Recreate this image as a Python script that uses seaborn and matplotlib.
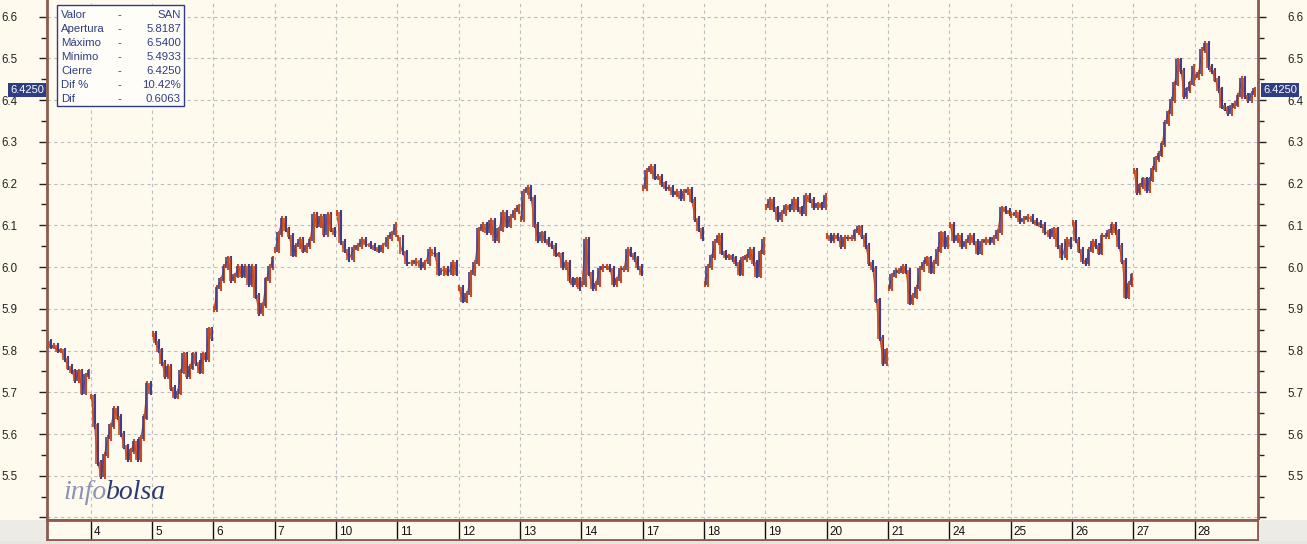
import numpy as np
import pandas as pd
import matplotlib
matplotlib.use("Agg")
import matplotlib.pyplot as plt
import seaborn as sns
from matplotlib.patches import Rectangle

# Session labels (day of month) and the price path read from each session
day_labels = ['3', '4', '5', '6', '7', '10', '11', '12', '13', '14',
              '17', '18', '19', '20', '21', '24', '25', '26', '27', '28']

p03 = [5.82, 5.81, 5.81, 5.80, 5.80, 5.78, 5.76, 5.75, 5.73, 5.75, 5.70, 5.74, 5.75]
p04 = [5.69, 5.62, 5.53, 5.50, 5.55, 5.59, 5.62, 5.66, 5.64, 5.60, 5.57, 5.54, 5.56,
       5.58, 5.54, 5.59, 5.64, 5.72, 5.70]
p05 = [5.84, 5.82, 5.80, 5.77, 5.74, 5.76, 5.71, 5.69, 5.70, 5.75, 5.79, 5.74, 5.76,
       5.79, 5.77, 5.75, 5.79, 5.78, 5.85, 5.83]
p06 = [5.90, 5.95, 5.97, 6.00, 6.02, 5.97, 5.98, 6.00, 5.98, 6.00, 5.96, 6.00, 5.93,
       5.89, 5.91, 5.97, 6.00, 6.02]
p07 = [6.04, 6.08, 6.115, 6.09, 6.075, 6.03, 6.05, 6.065, 6.04, 6.05, 6.065, 6.125,
       6.10, 6.12, 6.08, 6.125, 6.09, 6.08]
p10 = [6.13, 6.06, 6.04, 6.02, 6.045, 6.05, 6.065, 6.055, 6.05, 6.045, 6.04, 6.05,
       6.07, 6.08, 6.10]
p11 = [6.07, 6.035, 6.01, 6.01, 6.015, 6.00, 6.01, 6.04, 6.03, 5.985, 5.995, 5.985,
       6.01, 5.985]
p12 = [5.95, 5.92, 5.935, 5.985, 6.01, 6.09, 6.10, 6.085, 6.11, 6.065, 6.09, 6.13,
       6.10, 6.12, 6.135, 6.145]
p13 = [6.115, 6.18, 6.19, 6.165, 6.10, 6.065, 6.08, 6.065, 6.055, 6.05, 6.03, 6.03,
       6.00, 6.01, 5.97, 5.96, 5.97, 5.95]
p14 = [5.96, 6.065, 5.985, 5.95, 5.96, 5.995, 6.00, 6.00, 5.995, 5.96, 5.97, 5.995,
       5.995, 6.04, 6.03, 6.02, 6.00, 5.985]
p17 = [6.19, 6.23, 6.24, 6.215, 6.215, 6.20, 6.19, 6.19, 6.175, 6.18, 6.165, 6.18,
       6.185, 6.16, 6.115, 6.09, 6.07]
p18 = [5.96, 6.00, 6.025, 6.06, 6.075, 6.035, 6.025, 6.025, 6.02, 6.01, 5.985, 6.02,
       6.025, 6.04, 6.01, 5.98, 6.035, 6.065]
p19 = [6.145, 6.16, 6.14, 6.115, 6.13, 6.145, 6.14, 6.16, 6.14, 6.13, 6.17, 6.16,
       6.145, 6.15, 6.145, 6.17]
p20 = [6.075, 6.065, 6.075, 6.07, 6.05, 6.07, 6.07, 6.07, 6.085, 6.095, 6.075, 6.05,
       6.01, 5.995, 5.92, 5.83, 5.77, 5.80]
p21 = [5.95, 5.98, 5.99, 5.99, 6.00, 5.99, 5.915, 5.93, 5.95, 5.995, 6.01, 6.02,
       5.99, 6.01, 6.04, 6.08, 6.05, 6.07]
p24 = [6.10, 6.065, 6.075, 6.05, 6.06, 6.075, 6.06, 6.035, 6.06, 6.065, 6.06, 6.07,
       6.085, 6.14, 6.135, 6.13]
p25 = [6.125, 6.13, 6.11, 6.115, 6.12, 6.11, 6.105, 6.10, 6.085, 6.075, 6.09, 6.05,
       6.025, 6.065, 6.05]
p26 = [6.105, 6.065, 6.04, 6.015, 6.01, 6.04, 6.06, 6.05, 6.035, 6.075, 6.075, 6.085,
       6.10, 6.085, 6.05, 6.015, 5.93, 5.96, 5.98]
p27 = [6.23, 6.18, 6.195, 6.21, 6.185, 6.21, 6.235, 6.26, 6.27, 6.295, 6.345, 6.37,
       6.40, 6.44, 6.495, 6.47, 6.41, 6.425, 6.44, 6.48]
p28 = [6.455, 6.465, 6.52, 6.535, 6.48, 6.47, 6.45, 6.425, 6.385, 6.38, 6.37, 6.385,
       6.39, 6.41, 6.45, 6.41, 6.40, 6.415, 6.425]

paths = [p03, p04, p05, p06, p07, p10, p11, p12, p13, p14,
         p17, p18, p19, p20, p21, p24, p25, p26, p27, p28]

info_labels = ['Valor', 'Apertura', 'Máximo', 'Mínimo', 'Cierre', 'Dif %', 'Dif']
info_values = ['SAN', '5.8187', '6.5400', '5.4933', '6.4250', '10.42%', '0.6063']
last_price = 6.4250
y_ticks = [5.4, 5.5, 5.6, 5.7, 5.8, 5.9, 6.0, 6.1, 6.2, 6.3, 6.4, 6.5, 6.6]

# build a long table: one row per point
rows = []
for k, pts in enumerate(paths):
    start = 0.29 if k == 0 else k + 0.01
    xs = np.linspace(start, k + 0.98, len(pts))
    for x, v in zip(xs, pts):
        rows.append((k, x, v))
df = pd.DataFrame(rows, columns=['day', 'x', 'price'])

BG = '#fffaee'
BROWN = '#8c5a50'
NAVY = '#2f3d82'
BLUE = '#3d3f8e'
ORANGE = '#c94a1c'

sns.set_style("white")
plt.rcParams['font.family'] = ['Liberation Sans', 'DejaVu Sans']

W, H = 1307, 544
fig = plt.figure(figsize=(W / 100, H / 100), dpi=100, facecolor=BG)


def fx(x):
    return x / W


def fy(y):
    return 1 - y / H


ax = fig.add_axes([fx(47), fy(520), fx(1258) - fx(47), fy(0) - fy(520)])
ax.set_facecolor(BG)

# thin connecting line, then high/low bars between consecutive points
sns.lineplot(data=df, x='x', y='price', units='day', estimator=None,
             color=ORANGE, lw=0.8, ax=ax, legend=False, sort=False)
for k, g in df.groupby('day'):
    xs = g['x'].to_numpy()
    ps = g['price'].to_numpy()
    for i in range(len(ps)):
        prev = ps[i - 1] if i > 0 else ps[i]
        lo = min(prev, ps[i]) - 0.007
        hi = max(prev, ps[i]) + 0.007
        c = ORANGE if ps[i] >= prev else BLUE
        ax.vlines(xs[i], lo, hi, color=c, lw=1.5, zorder=3)
        if i > 0:
            xm = (xs[i] + xs[i - 1]) / 2
            ax.vlines(xm, lo + 0.004, hi - 0.004, color=BLUE if c == ORANGE else ORANGE,
                      lw=1.2, zorder=3)

ax.set_xlim(0.288, 20.03)
ax.set_ylim(5.394, 6.640)
ax.set_yticks(y_ticks)
ax.set_yticklabels(['' if t == 5.4 else f'{t:.1f}' for t in y_ticks])
ax.set_yticks(np.arange(5.45, 6.64, 0.1), minor=True)
ax.set_xticks(range(1, 20))
ax.set_xticklabels([])
ax.tick_params(axis='y', which='both', left=True, right=True, labelleft=True,
               labelright=True, direction='out', length=6, width=1, color='#222222',
               pad=15, labelsize=8.3, labelcolor='#222222')
ax.tick_params(axis='y', which='minor', length=4, labelleft=False, labelright=False)
ax.tick_params(axis='x', length=0)
ax.grid(True, which='major', color='#bdbdbd', ls=(0, (3, 3)), lw=0.8)
ax.set_axisbelow(True)
for s in ['left', 'right', 'bottom']:
    ax.spines[s].set_color(BROWN)
    ax.spines[s].set_linewidth(2)
ax.spines['top'].set_visible(False)
ax.set_xlabel('')
ax.set_ylabel('')

# date strip
dax = fig.add_axes([fx(47), fy(540), fx(1258) - fx(47), fy(520) - fy(540)], sharex=ax)
dax.set_facecolor(BG)
dax.set_ylim(0, 1)
dax.set_yticks([])
dax.tick_params(axis='x', length=0, labelbottom=False)
for s in ['left', 'right', 'bottom', 'top']:
    dax.spines[s].set_color(BROWN)
    dax.spines[s].set_linewidth(2)
for k in range(1, len(day_labels)):
    dax.axvline(k, color='#111111', lw=1)
    dax.text(k + 0.05, 0.42, day_labels[k], fontsize=8.5, va='center', ha='left',
             color='#111111')

# grey corners under the plot
fig.patches.append(Rectangle((0, 0), fx(46), fy(520), transform=fig.transFigure,
                             facecolor='#ecebe6', edgecolor='none', zorder=0))
fig.patches.append(Rectangle((fx(1259), 0), 1 - fx(1259), fy(520), transform=fig.transFigure,
                             facecolor='#ecebe6', edgecolor='none', zorder=0))
fig.patches.append(Rectangle((0, 0), 1, fy(541), transform=fig.transFigure,
                             facecolor='#e6e5e0', edgecolor='none', zorder=0))

# info box
fig.patches.append(Rectangle((fx(57), fy(106)), fx(184) - fx(57), fy(5) - fy(106),
                             transform=fig.transFigure, facecolor='#fffdf7',
                             edgecolor=NAVY, lw=1, zorder=5))
for i, (lab, val) in enumerate(zip(info_labels, info_values)):
    yy = fy(15.5 + 14 * i)
    fig.text(fx(61), yy, lab, fontsize=8.2, color=NAVY, va='center', ha='left', zorder=6)
    fig.text(fx(117), yy, '-', fontsize=8.2, color=NAVY, va='center', ha='left', zorder=6)
    fig.text(fx(181), yy, val, fontsize=8.2, color=NAVY, va='center', ha='right', zorder=6)

# last price badges on both sides
y_last = ax.transData.transform((0, last_price))[1] / (H)
fig.text(fx(27), y_last, f'{last_price:.4f}', fontsize=8, color='white', ha='center',
         va='center', zorder=7,
         bbox=dict(boxstyle='square,pad=0.18', facecolor=NAVY, edgecolor='none'))
fig.text(fx(1280), y_last, f'{last_price:.4f}', fontsize=8, color='white', ha='center',
         va='center', zorder=7,
         bbox=dict(boxstyle='square,pad=0.18', facecolor=NAVY, edgecolor='none'))

# logo
t_info = fig.text(fx(63), fy(499), 'info', fontsize=20, family='Liberation Serif',
                  style='italic', color='#8d93b4', ha='left', va='baseline')
rend = fig.canvas.get_renderer()
x_end = t_info.get_window_extent(renderer=rend).x1
fig.text(x_end / W, fy(499), 'bolsa', fontsize=20, family='Liberation Serif',
         style='italic', color='#2c3a72', ha='left', va='baseline')

fig.savefig('out.png', dpi=100, facecolor=BG)
